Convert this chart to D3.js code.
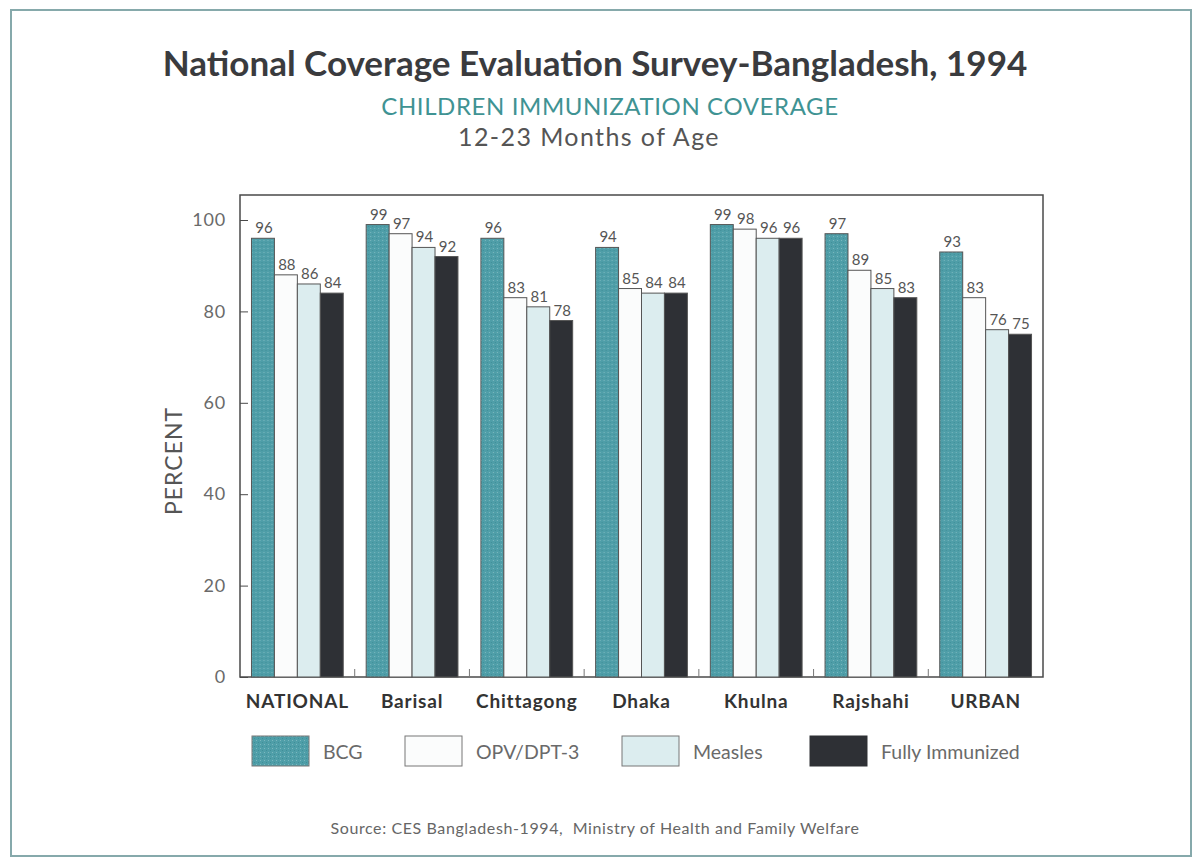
<!DOCTYPE html>
<html>
<head>
<meta charset="utf-8">
<script src="https://cdn.jsdelivr.net/npm/d3@7"></script>
<style>
  html, body { margin: 0; padding: 0; background: #ffffff; }
  svg { display: block; }
  text { font-family: Lato, "Open Sans", sans-serif; }
</style>
</head>
<body>
<svg id="chart" width="1194" height="860"></svg>
<script>
// Immunization coverage (%) by division, children 12-23 months
const regions = ["NATIONAL", "Barisal", "Chittagong", "Dhaka", "Khulna", "Rajshahi", "URBAN"];
const seriesNames = ["BCG", "OPV/DPT-3", "Measles", "Fully Immunized"];
const bcg      = [96, 99, 96, 94, 99, 97, 93];
const opvDpt3  = [88, 97, 83, 85, 98, 89, 83];
const measles  = [86, 94, 81, 84, 96, 85, 76];
const fully    = [84, 92, 78, 84, 96, 83, 75];
const yTicks   = [0, 20, 40, 60, 80, 100];

const seriesValues = [bcg, opvDpt3, measles, fully];
const seriesColors = ["#4f9ea8", "#fbfcfc", "#dcedef", "#2e3035"];

const svg = d3.select("#chart");

// outer page frame
svg.append("rect")
  .attr("x", 11).attr("y", 10).attr("width", 1180).attr("height", 846)
  .attr("fill", "none").attr("stroke", "#86a9ab").attr("stroke-width", 2);

// texture for the BCG bars
const defs = svg.append("defs");
const pat = defs.append("pattern")
  .attr("id", "bcgTex").attr("patternUnits", "userSpaceOnUse")
  .attr("width", 4).attr("height", 4);
pat.append("rect").attr("width", 4).attr("height", 4).attr("fill", "#4f9ea8");
pat.append("rect").attr("x", 0).attr("y", 0).attr("width", 1).attr("height", 1).attr("fill", "#7bb8bf");
pat.append("rect").attr("x", 2).attr("y", 2).attr("width", 1).attr("height", 1).attr("fill", "#3f8e98");

const fillFor = i => i === 0 ? "url(#bcgTex)" : seriesColors[i];

// titles
svg.append("text").attr("x", 595).attr("y", 76).attr("text-anchor", "middle")
  .attr("font-size", 35).attr("font-weight", "bold").attr("fill", "#3a3b3e")
  .text("National Coverage Evaluation Survey-Bangladesh, 1994");
svg.append("text").attr("x", 610).attr("y", 115).attr("text-anchor", "middle")
  .attr("font-size", 24).attr("letter-spacing", 0.6).attr("fill", "#3f9393")
  .text("CHILDREN IMMUNIZATION COVERAGE");
svg.append("text").attr("x", 589).attr("y", 146).attr("text-anchor", "middle")
  .attr("font-size", 25).attr("letter-spacing", 1.4).attr("fill", "#555")
  .text("12-23 Months of Age");

// plot area
const plotLeft = 240, plotRight = 1043, plotTop = 195, plotBottom = 677;

const x0 = d3.scaleBand().domain(regions).range([plotLeft, plotRight]).paddingInner(0.2).paddingOuter(0.1);
const x1 = d3.scaleBand().domain(d3.range(seriesNames.length)).range([0, x0.bandwidth()]).padding(0);
const y = d3.scaleLinear().domain([0, 100]).range([plotBottom, 220]);

// frame around the plot
svg.append("rect")
  .attr("x", plotLeft).attr("y", plotTop)
  .attr("width", plotRight - plotLeft).attr("height", plotBottom - plotTop)
  .attr("fill", "none").attr("stroke", "#4a4a4a").attr("stroke-width", 1.5);

// y axis: inward ticks on the left edge
const yAxis = d3.axisLeft(y).tickValues(yTicks).tickSize(-8).tickPadding(14);
const yG = svg.append("g").attr("transform", `translate(${plotLeft},0)`).call(yAxis);
yG.select(".domain").remove();
yG.selectAll(".tick line").attr("stroke", "#4a4a4a");
yG.selectAll(".tick text").attr("font-size", 18).attr("fill", "#6a6a6a")
  .attr("letter-spacing", 0.8).attr("font-family", "Lato, sans-serif");

svg.append("text")
  .attr("transform", "translate(182,461) rotate(-90)")
  .attr("text-anchor", "middle").attr("font-size", 23).attr("letter-spacing", 1)
  .attr("fill", "#555")
  .text("PERCENT");

// bars
const groups = svg.append("g").selectAll("g").data(regions).join("g")
  .attr("transform", d => `translate(${x0(d)},0)`);

groups.each(function(region, ri) {
  const g = d3.select(this);
  seriesValues.forEach((vals, si) => {
    const v = vals[ri];
    g.append("rect")
      .attr("x", x1(si)).attr("y", y(v))
      .attr("width", x1.bandwidth()).attr("height", y(0) - y(v))
      .attr("fill", fillFor(si))
      .attr("stroke", "#555").attr("stroke-width", 1);
    g.append("text")
      .attr("x", x1(si) + x1.bandwidth() / 2 + 1).attr("y", y(v) - 5)
      .attr("text-anchor", "middle").attr("font-size", 15).attr("fill", "#555")
      .text(v);
  });
});

// group separator ticks on the bottom edge
const sepX = regions.slice(1).map(r => x0(r) - x0.step() * x0.paddingInner() / 2);
svg.append("g").selectAll("line").data(sepX).join("line")
  .attr("x1", d => d).attr("x2", d => d)
  .attr("y1", plotBottom).attr("y2", plotBottom - 8)
  .attr("stroke", "#777").attr("stroke-width", 1);

// category labels
const xAxis = d3.axisBottom(x0).tickSize(0).tickPadding(18);
const xG = svg.append("g").attr("transform", `translate(0,${plotBottom})`).call(xAxis);
xG.select(".domain").remove();
xG.selectAll(".tick text").attr("font-size", 19).attr("font-weight", "bold")
  .attr("letter-spacing", 0.8)
  .attr("fill", "#333").attr("font-family", "Lato, sans-serif");

// legend
const legendX = [252, 405, 622, 810];
const legend = svg.append("g").selectAll("g").data(seriesNames).join("g")
  .attr("transform", (d, i) => `translate(${legendX[i]},736)`);
legend.append("rect")
  .attr("width", 57).attr("height", 30)
  .attr("fill", (d, i) => fillFor(i))
  .attr("stroke", (d, i) => i === 3 ? "#2e3035" : "#777").attr("stroke-width", 1);
legend.append("text")
  .attr("x", 71).attr("y", 23)
  .attr("font-size", 19.5).attr("fill", "#6a6a6a")
  .text(d => d);

// source note
svg.append("text").attr("x", 595).attr("y", 834).attr("text-anchor", "middle")
  .attr("font-size", 16).attr("letter-spacing", 0.6).attr("fill", "#666")
  .style("white-space", "pre")
  .text("Source: CES Bangladesh-1994,  Ministry of Health and Family Welfare");
</script>
</body>
</html>
